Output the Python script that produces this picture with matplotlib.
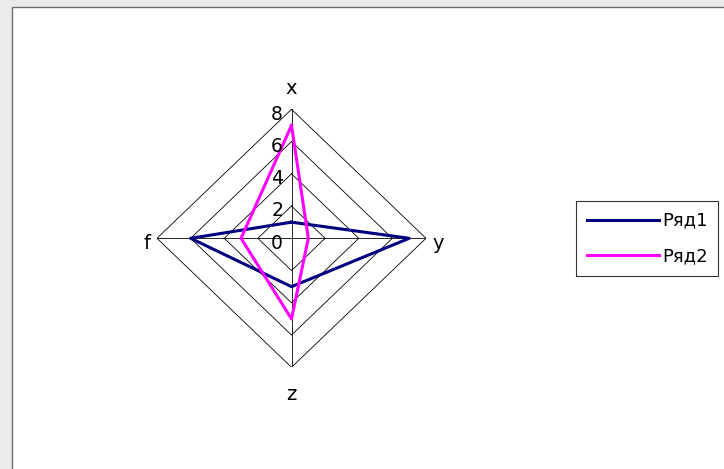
import numpy as np
import matplotlib
matplotlib.use('Agg')
import matplotlib.pyplot as plt
from matplotlib.patches import Rectangle

# данные диаграммы
categories = ['x', 'y', 'z', 'f']
ryad1 = [1, 7, 3, 6]
ryad2 = [7, 1, 5, 3]
rings = [2, 4, 6, 8]
tick_labels = ['0', '2', '4', '6', '8']

W, H = 724, 469
fig = plt.figure(figsize=(W / 100, H / 100), dpi=100, facecolor='#ebebeb')

# белая область диаграммы с серой рамкой
fig.patches.append(Rectangle((12 / W, -0.01), 1.0, (H - 7) / H + 0.01,
                             transform=fig.transFigure, facecolor='white',
                             edgecolor='#6e6e6e', linewidth=1.0, zorder=-5))

cx, cy, rx, ry = 291.5, 469 - 238.3, 134.5, 129
ax = fig.add_axes([(cx - rx) / W, (cy - ry) / H, 2 * rx / W, 2 * ry / H])
ax.set_xlim(-8, 8)
ax.set_ylim(-8, 8)
ax.axis('off')

angles = np.arange(len(categories)) * np.pi / 2


def to_xy(vals):
    vals = np.asarray(vals, dtype=float)
    xs = vals * np.sin(angles)
    ys = vals * np.cos(angles)
    return np.append(xs, xs[0]), np.append(ys, ys[0])


# сетка
for r in rings:
    gx, gy = to_xy([r] * len(categories))
    ax.plot(gx, gy, color='black', lw=0.6, zorder=1)
for a in angles:
    ax.plot([0, 8 * np.sin(a)], [0, 8 * np.cos(a)], color='black', lw=0.6, zorder=1)

# ряды
x1, y1 = to_xy(ryad1)
x2, y2 = to_xy(ryad2)
l1, = ax.plot(x1, y1, color='#000080', lw=2.2, zorder=3, label='Ряд1')
l2, = ax.plot(x2, y2, color='#ff00ff', lw=2.2, zorder=3, label='Ряд2')

# подписи шкалы
for i, t in enumerate(tick_labels):
    ax.text(-0.5, i * 2 - 0.3, t, ha='right', va='center', fontsize=13.5,
            clip_on=False, zorder=4)

# подписи осей
lab_pos = [(0, 9.3), (8.7, -0.3), (0, -9.7), (-8.6, -0.3)]
for name, (lx, ly) in zip(categories, lab_pos):
    ax.text(lx, ly, name, ha='center', va='center', fontsize=14, clip_on=False)

leg = fig.legend(handles=[l1, l2], loc='upper left',
                 bbox_to_anchor=(576 / W, 1 - 201 / H), fontsize=13,
                 frameon=True, fancybox=False, edgecolor='black',
                 handlelength=4.0, handletextpad=0.15, labelspacing=0.95,
                 borderpad=0.6, borderaxespad=0)
leg.get_frame().set_linewidth(0.8)

fig.savefig('out.png', dpi=100, facecolor=fig.get_facecolor())
